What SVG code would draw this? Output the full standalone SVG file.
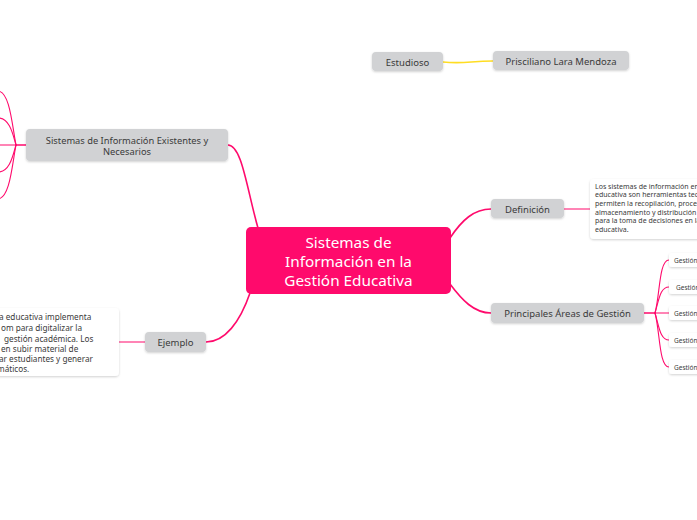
<svg xmlns="http://www.w3.org/2000/svg" width="697" height="520" viewBox="0 0 697 520">
<defs>
<filter id="sh" x="-20%" y="-30%" width="140%" height="170%">
<feDropShadow dx="0" dy="1" stdDeviation="1.2" flood-color="#000" flood-opacity="0.18"/>
</filter>
<style>
.g{fill:#d1d2d4;filter:url(#sh)}
.w{fill:#ffffff;filter:url(#sh)}
.t{font-family:"Noto Sans","Open Sans",sans-serif;fill:#3a3a3a;text-anchor:middle;dominant-baseline:central}
.s{font-family:"Noto Sans","Open Sans",sans-serif;fill:#3a3a3a;dominant-baseline:central}
.m{font-family:"Noto Sans","Open Sans",sans-serif;font-size:15.3px;fill:#ffffff;text-anchor:middle;dominant-baseline:central}
.c{fill:none;stroke:#ff0a6c;stroke-width:1.6;stroke-linecap:round}
.cs{fill:none;stroke:#ff0a6c;stroke-width:1.1;stroke-linecap:round}
</style>
</defs>
<rect width="697" height="520" fill="#ffffff"/>
<g id="connectors">
<path class="c" d="M228 145 C242 145 247 190 258 228"/>
<path class="c" d="M206 342 C225 342 240 322 250 293"/>
<path class="c" d="M450 238 C462 220 474 209 491 209"/>
<path class="c" d="M450 284 C462 300 474 313 491 313"/>
<path d="M443 62 C465 64 470 61 493 61" fill="none" stroke="#ffdd22" stroke-width="1.6"/>
<path class="c" d="M26 145 L16 145"/>
<path class="cs" d="M16 145 C12 125 10 92 -2 91"/>
<path class="cs" d="M16 145 C13 135 10 118 -2 118"/>
<path class="cs" d="M16 145 L-2 145"/>
<path class="cs" d="M16 145 C13 155 10 172 -2 172"/>
<path class="cs" d="M16 145 C12 165 10 198 -2 199"/>
<path class="cs" d="M119 342 L145 342"/>
<path class="cs" d="M564 209 L590 209"/>
<path class="c" d="M644 313 L655 313"/>
<path class="cs" d="M655 313 C660 295 659 260 669 260"/>
<path class="cs" d="M655 313 C659 300 660 287 669 287"/>
<path class="cs" d="M655 313 L669 313"/>
<path class="cs" d="M655 313 C659 326 660 340 669 340"/>
<path class="cs" d="M655 313 C660 331 659 367 669 367"/>
</g>
<g id="central">
<rect x="246" y="227" width="205" height="67" rx="5" fill="#ff0a6c"/>
<text class="m" x="348.5" y="242">Sistemas de</text>
<text class="m" x="348.5" y="261">Información en la</text>
<text class="m" x="348.5" y="280">Gestión Educativa</text>
</g>
<g id="existentes">
<rect class="g" x="26" y="129" width="202" height="32" rx="4"/>
<text class="t" x="127" y="140" font-size="9.3">Sistemas de Información Existentes y</text>
<text class="t" x="127" y="151.5" font-size="9.3">Necesarios</text>
</g>
<g id="ejemplo">
<rect class="g" x="145" y="332" width="61" height="20" rx="4"/>
<text class="t" x="175.5" y="342" font-size="9.5">Ejemplo</text>
</g>
<g id="ejemplo-texto">
<rect class="w" x="-10" y="308" width="129" height="68" rx="4"/>
<text class="s" x="-1" y="316" font-size="8.2">a educativa implementa</text>
<text class="s" x="1" y="327" font-size="8.2">om para digitalizar la</text>
<text class="s" x="4" y="338" font-size="8.2">gestión académica. Los</text>
<text class="s" x="1" y="348" font-size="8.2">en subir material de</text>
<text class="s" x="-1" y="358" font-size="8.2">ar estudiantes y generar</text>
<text class="s" x="-3" y="368" font-size="8.2">máticos.</text>
</g>
<g id="estudioso">
<rect class="g" x="372" y="52" width="71" height="19" rx="4"/>
<text class="t" x="407.5" y="62" font-size="9.5">Estudioso</text>
</g>
<g id="autor">
<rect class="g" x="493" y="51" width="136" height="19" rx="4"/>
<text class="t" x="561" y="61" font-size="9.5">Prisciliano Lara Mendoza</text>
</g>
<g id="definicion">
<rect class="g" x="491" y="199" width="73" height="19" rx="4"/>
<text class="t" x="527.5" y="209" font-size="9.5">Definición</text>
</g>
<g id="definicion-texto">
<rect class="w" x="590" y="179" width="120" height="60" rx="4"/>
<text class="s" x="595" y="186" font-size="7">Los sistemas de información en la gestión</text>
<text class="s" x="595" y="194.5" font-size="7">educativa son herramientas tecnológicas que</text>
<text class="s" x="595" y="203" font-size="7">permiten la recopilación, procesamiento,</text>
<text class="s" x="595" y="212" font-size="7">almacenamiento y distribución de información</text>
<text class="s" x="595" y="220.5" font-size="7">para la toma de decisiones en la institución</text>
<text class="s" x="595" y="229" font-size="7">educativa.</text>
</g>
<g id="areas">
<rect class="g" x="491" y="303" width="153" height="20" rx="4"/>
<text class="t" x="567.5" y="313" font-size="9.5">Principales Áreas de Gestión</text>
</g>
<g id="area1"><rect class="w" x="669" y="253" width="60" height="14" rx="3"/><text class="s" x="674" y="260" font-size="6.5">Gestión</text></g>
<g id="area2"><rect class="w" x="669" y="280" width="60" height="14" rx="3"/><text class="s" x="676" y="287" font-size="6.5">Gestión</text></g>
<g id="area3"><rect class="w" x="669" y="306" width="60" height="14" rx="3"/><text class="s" x="674" y="313" font-size="6.5">Gestión</text></g>
<g id="area4"><rect class="w" x="669" y="333" width="60" height="14" rx="3"/><text class="s" x="674" y="340" font-size="6.5">Gestión</text></g>
<g id="area5"><rect class="w" x="669" y="360" width="60" height="14" rx="3"/><text class="s" x="674" y="367" font-size="6.5">Gestión</text></g>
</svg>
